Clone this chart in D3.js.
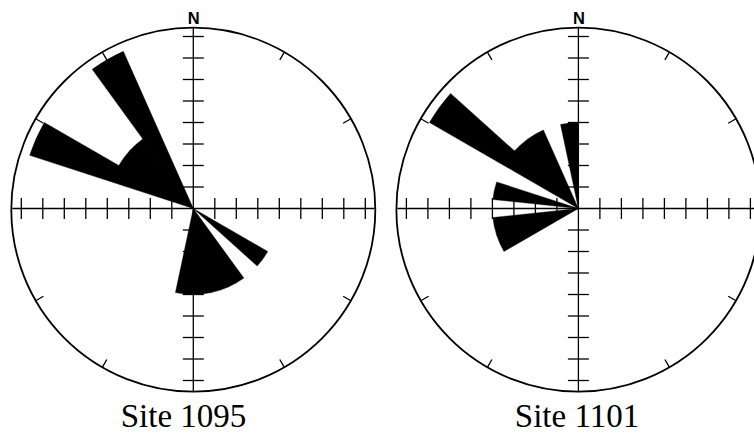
<!DOCTYPE html>
<html>
<head>
<meta charset="utf-8">
<script src="https://cdn.jsdelivr.net/npm/d3@7"></script>
<style>
  html, body { margin: 0; padding: 0; background: #fff; }
  svg { display: block; }
</style>
</head>
<body>
<svg id="chart" width="754" height="433"></svg>
<script>
// Rose diagrams of measured azimuths, 12° bins, radius = count
const siteNames = ["Site 1095", "Site 1101"];
const binWidth = 12;

const binStart1095 = [120, 144, 156, 168, 180, 288, 300, 312, 324];
const count1095    = [1,   1,   1,   1,   1,   2,   1,   1,   2];

const binStart1101 = [240, 252, 276, 300, 312, 324, 348];
const count1101    = [1,   1,   1,   2,   1,   1,   1];

// Scale ticks along the N–S and E–W axes (in counts)
const radialTicks = [0.25, 0.5, 0.75, 1, 1.25, 1.5, 1.75, 2];
// Bearings of the short ticks on the rim
const rimTicks = [30, 60, 120, 150, 210, 240, 300, 330];

const sites = [
  { name: siteNames[0], starts: binStart1095, counts: count1095, cx: 193.3, cy: 208.5, labelX: 183.5 },
  { name: siteNames[1], starts: binStart1101, counts: count1101, cx: 578.4, cy: 208.5, labelX: 577 }
];

const R = 182;            // rim radius
const rimOffsetY = 1.2;   // rim centre sits slightly below the axis crossing
const tickHalf = 10.5;
const rimTickLen = 9;

const r = d3.scaleLinear().domain([0, 2]).range([0, 172]);
const toRad = d3.scaleLinear().domain([0, 360]).range([0, 2 * Math.PI]);

const svg = d3.select("#chart");

sites.forEach(site => {
  const g = svg.append("g").attr("transform", `translate(${site.cx},${site.cy})`);

  // rim
  g.append("circle")
    .attr("cx", 0).attr("cy", rimOffsetY).attr("r", R)
    .attr("fill", "none").attr("stroke", "#000").attr("stroke-width", 1.8);

  // rim ticks
  g.selectAll("line.rim").data(rimTicks).join("line")
    .attr("class", "rim")
    .attr("x1", d => Math.sin(toRad(d)) * R)
    .attr("y1", d => -Math.cos(toRad(d)) * R + rimOffsetY)
    .attr("x2", d => Math.sin(toRad(d)) * (R - rimTickLen))
    .attr("y2", d => -Math.cos(toRad(d)) * (R - rimTickLen) + rimOffsetY)
    .attr("stroke", "#000").attr("stroke-width", 1.3);

  // N–S and E–W axes
  const axes = g.append("g").attr("stroke", "#000").attr("stroke-width", 1.3);
  axes.append("line").attr("x1", 0).attr("x2", 0).attr("y1", -R + rimOffsetY).attr("y2", R + rimOffsetY);
  axes.append("line").attr("y1", 0).attr("y2", 0).attr("x1", -R + 1).attr("x2", R - 1);

  const signed = radialTicks.flatMap(t => [t, -t]);
  axes.selectAll("line.vt").data(signed).join("line")
    .attr("class", "vt")
    .attr("x1", -tickHalf).attr("x2", tickHalf)
    .attr("y1", d => (d > 0 ? -1 : 1) * r(Math.abs(d)))
    .attr("y2", d => (d > 0 ? -1 : 1) * r(Math.abs(d)));
  axes.selectAll("line.ht").data(signed).join("line")
    .attr("class", "ht")
    .attr("y1", -tickHalf).attr("y2", tickHalf)
    .attr("x1", d => (d > 0 ? 1 : -1) * r(Math.abs(d)))
    .attr("x2", d => (d > 0 ? 1 : -1) * r(Math.abs(d)));

  // petals: all bins of a site go into one path so neighbouring wedges fill seamlessly
  const petals = site.starts.map((s, i) => ({ start: s, count: site.counts[i] }));
  const arc = d3.arc()
    .innerRadius(0)
    .outerRadius(d => r(d.count))
    .startAngle(d => toRad(d.start))
    .endAngle(d => toRad(d.start + binWidth));
  g.append("path")
    .datum(petals)
    .attr("class", "petals")
    .attr("d", d => d.map(arc).join(""))
    .attr("fill", "#000")
    .attr("stroke", "#000")
    .attr("stroke-width", 0.4)
    .attr("stroke-linejoin", "round");

  // north marker
  g.append("text")
    .attr("x", 0.5).attr("y", -184.5)
    .attr("text-anchor", "middle")
    .attr("font-family", "Liberation Sans, Arial, sans-serif")
    .attr("font-weight", "bold")
    .attr("font-size", 16.5)
    .attr("fill", "#000")
    .text("N");

  // site label
  svg.append("text")
    .attr("x", site.labelX).attr("y", 427)
    .attr("text-anchor", "middle")
    .attr("font-family", "Liberation Serif, Times New Roman, serif")
    .attr("font-size", 33)
    .attr("fill", "#000")
    .text(site.name);
});
</script>
</body>
</html>
